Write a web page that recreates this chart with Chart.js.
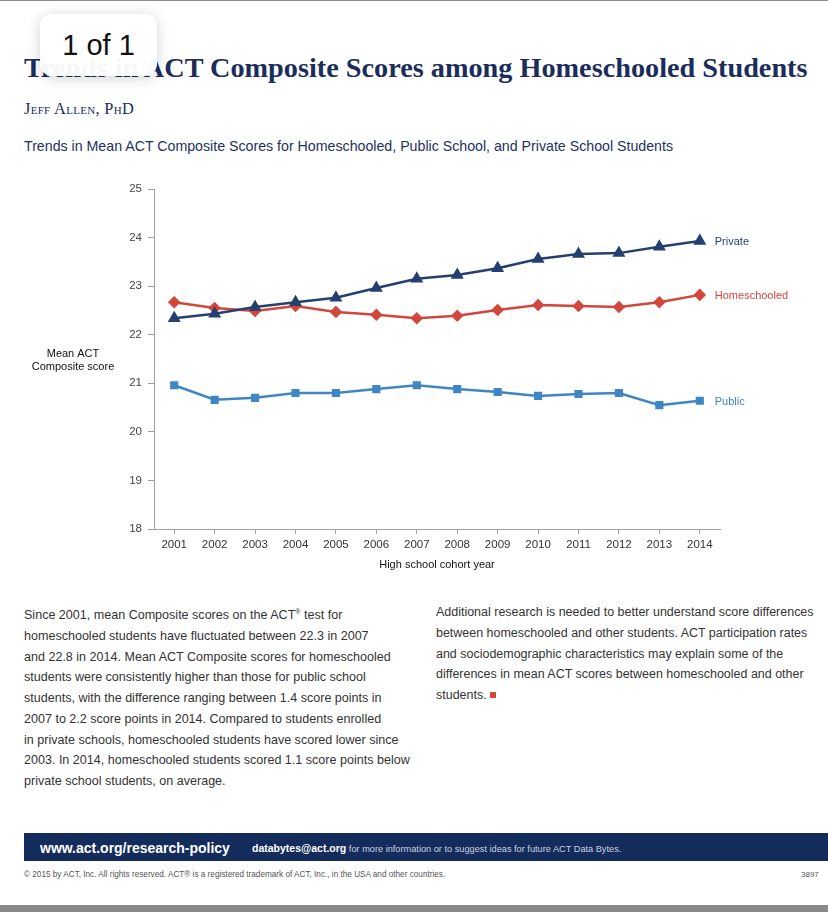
<!DOCTYPE html>
<html>
<head>
<meta charset="utf-8">
<script src="https://cdn.jsdelivr.net/npm/chart.js@4.4.1/dist/chart.umd.min.js"></script>
<style>
  html,body{margin:0;padding:0;background:#fff;}
  body{width:828px;height:912px;position:relative;overflow:hidden;font-family:"Liberation Sans",Arial,sans-serif;}
  .abs{position:absolute;white-space:nowrap;}
  #topline{left:0;top:0;width:828px;height:1px;background:#8c8c8c;}
  #title{left:24px;top:52px;font-family:"Liberation Serif","DejaVu Serif",serif;font-weight:bold;color:#1b2d5a;font-size:27px;line-height:32px;}
  #author{left:24px;top:101px;font-family:"Liberation Serif",serif;font-variant:small-caps;color:#1b2d5a;font-size:13px;line-height:16px;letter-spacing:0.3px;}
  #subtitle{left:24px;top:137px;color:#1e3260;font-size:14px;line-height:18px;}
  .para{top:602px;color:#333;font-size:12.5px;line-height:20.75px;}
  #pleft{left:24px;}
  #pright{left:436px;}
  .redsq{display:inline-block;width:6px;height:6px;background:#d2463c;margin-left:3px;vertical-align:1px;}
  #footbar{left:24px;top:833px;width:804px;height:28px;background:#142c5c;}
  #url{left:40px;top:839px;color:#fff;font-weight:bold;font-size:14.5px;line-height:18px;}
  #mail{left:252px;top:842px;color:#fff;font-size:8px;line-height:12px;}
  #mail b{font-size:10.5px;}
  #mail span{color:#c9d2e4;}
  #copy{left:24px;top:870px;color:#555;font-size:6.8px;line-height:10px;}
  #num{left:801px;top:869px;color:#555;font-size:8px;line-height:11px;}
  #botbar{left:0;top:905px;width:828px;height:7px;background:#8a8a8a;}
  #badge{left:40px;top:14px;width:117px;height:62px;background:rgba(255,255,255,0.96);border-radius:12px;box-shadow:0 2px 14px rgba(0,0,0,0.18);font-size:29px;line-height:62px;text-align:center;color:#111;}
  #chart{position:absolute;left:0;top:175px;}
</style>
</head>
<body>
<div id="topline" class="abs"></div>
<div id="title" class="abs">Trends in ACT Composite Scores among Homeschooled Students</div>
<div id="author" class="abs">Jeff Allen, PhD</div>
<div id="subtitle" class="abs">Trends in Mean ACT Composite Scores for Homeschooled, Public School, and Private School Students</div>

<canvas id="chart" width="828" height="415"></canvas>

<div id="pleft" class="abs para">Since 2001, mean Composite scores on the ACT<sup style="font-size:7px">®</sup> test for<br>homeschooled students have fluctuated between 22.3 in 2007<br>and 22.8 in 2014. Mean ACT Composite scores for homeschooled<br>students were consistently higher than those for public school<br>students, with the difference ranging between 1.4 score points in<br>2007 to 2.2 score points in 2014. Compared to students enrolled<br>in private schools, homeschooled students have scored lower since<br>2003. In 2014, homeschooled students scored 1.1 score points below<br>private school students, on average.</div>
<div id="pright" class="abs para">Additional research is needed to better understand score differences<br>between homeschooled and other students. ACT participation rates<br>and sociodemographic characteristics may explain some of the<br>differences in mean ACT scores between homeschooled and other<br>students.<span class="redsq"></span></div>

<div id="footbar" class="abs"></div>
<div id="url" class="abs">www.act.org/research-policy</div>
<div id="mail" class="abs"><b>databytes@act.org</b> <span>for more information or to suggest ideas for future ACT Data Bytes.</span></div>
<div id="copy" class="abs">© 2015 by ACT, Inc. All rights reserved. ACT® is a registered trademark of ACT, Inc., in the USA and other countries.</div>
<div id="num" class="abs">3897</div>
<div id="botbar" class="abs"></div>
<div id="badge" class="abs">1 of 1</div>

<script>
// ---- Data ----
const years = ["2001","2002","2003","2004","2005","2006","2007","2008","2009","2010","2011","2012","2013","2014"];
const privateScores      = [22.34,22.43,22.57,22.67,22.76,22.96,23.15,23.23,23.37,23.56,23.66,23.68,23.81,23.93];
const homeschooledScores = [22.67,22.55,22.49,22.59,22.47,22.41,22.34,22.39,22.51,22.61,22.59,22.57,22.67,22.82];
const publicScores       = [20.96,20.66,20.70,20.80,20.80,20.88,20.96,20.88,20.82,20.74,20.78,20.80,20.55,20.64];
const seriesNames = ["Private","Homeschooled","Public"];
const yTitleLines = ["Mean ACT","Composite score"];
const xTitle = "High school cohort year";

// fit text widths
function fitWidth(id, target){
  const el = document.getElementById(id);
  const fs = parseFloat(getComputedStyle(el).fontSize);
  const w = el.getBoundingClientRect().width;
  el.style.fontSize = (fs * target / w) + "px";
}
fitWidth("title", 784);
fitWidth("subtitle", 650);
fitWidth("author", 113);
fitWidth("pleft", 386);
fitWidth("pright", 378);
fitWidth("url", 190);
fitWidth("mail", 384);
fitWidth("copy", 422);

const colors = {Private:"#243f70", Homeschooled:"#d2463c", Public:"#3f86c3"};
const FONT = "'Liberation Sans', Arial, sans-serif";

const endLabels = {
  id:"endLabels",
  afterDatasetsDraw(chart){
    const ctx = chart.ctx;
    ctx.save();
    ctx.font = "11px " + FONT;
    ctx.textBaseline = "middle";
    ctx.textAlign = "left";
    chart.data.datasets.forEach((ds,i)=>{
      const meta = chart.getDatasetMeta(i);
      const pt = meta.data[meta.data.length-1];
      ctx.fillStyle = ds.borderColor;
      ctx.fillText(ds.label, pt.x + 15, pt.y + 1);
    });
    // y axis title
    const ca = chart.chartArea;
    const cy = (ca.top + ca.bottom)/2;
    ctx.fillStyle = "#111";
    ctx.textAlign = "center";
    ctx.fillText(yTitleLines[0], 73, cy - 5);
    ctx.fillText(yTitleLines[1], 73, cy + 8);
    ctx.restore();
  }
};

new Chart(document.getElementById("chart"), {
  type:"line",
  data:{
    labels: years,
    datasets:[
      {label:seriesNames[0], data:privateScores, borderColor:colors.Private, backgroundColor:colors.Private, pointStyle:"triangle", pointRadius:5, borderWidth:2.5, tension:0},
      {label:seriesNames[1], data:homeschooledScores, borderColor:colors.Homeschooled, backgroundColor:colors.Homeschooled, pointStyle:"rectRot", pointRadius:4.5, borderWidth:2.5, tension:0},
      {label:seriesNames[2], data:publicScores, borderColor:colors.Public, backgroundColor:colors.Public, pointStyle:"rect", pointRadius:4, borderWidth:2.5, tension:0}
    ]
  },
  options:{
    responsive:false,
    animation:false,
    devicePixelRatio:1,
    layout:{padding:{left:0,right:108,top:14,bottom:0}},
    plugins:{legend:{display:false}, tooltip:{enabled:false}},
    scales:{
      x:{
        offset:true,
        grid:{display:true, drawOnChartArea:false, drawTicks:true, tickLength:5, color:"#a0a0a0", offset:false},
        border:{display:true, color:"#a0a0a0"},
        ticks:{color:"#333", font:{size:11.5, family:FONT}, padding:4, maxRotation:0, autoSkip:false},
        title:{display:true, text:xTitle, color:"#111", font:{size:11, family:FONT}, padding:{top:0,bottom:18}},
        afterFit(s){ s.height = 61; }
      },
      y:{
        min:18, max:25,
        ticks:{stepSize:1, color:"#444", font:{size:11.5, family:FONT}, padding:6},
        grid:{display:true, drawOnChartArea:false, drawTicks:true, tickLength:6, color:"#a0a0a0"},
        border:{display:true, color:"#a0a0a0"},
        afterFit(s){ s.width = 154; }
      }
    }
  },
  plugins:[endLabels]
});
</script>
</body>
</html>
